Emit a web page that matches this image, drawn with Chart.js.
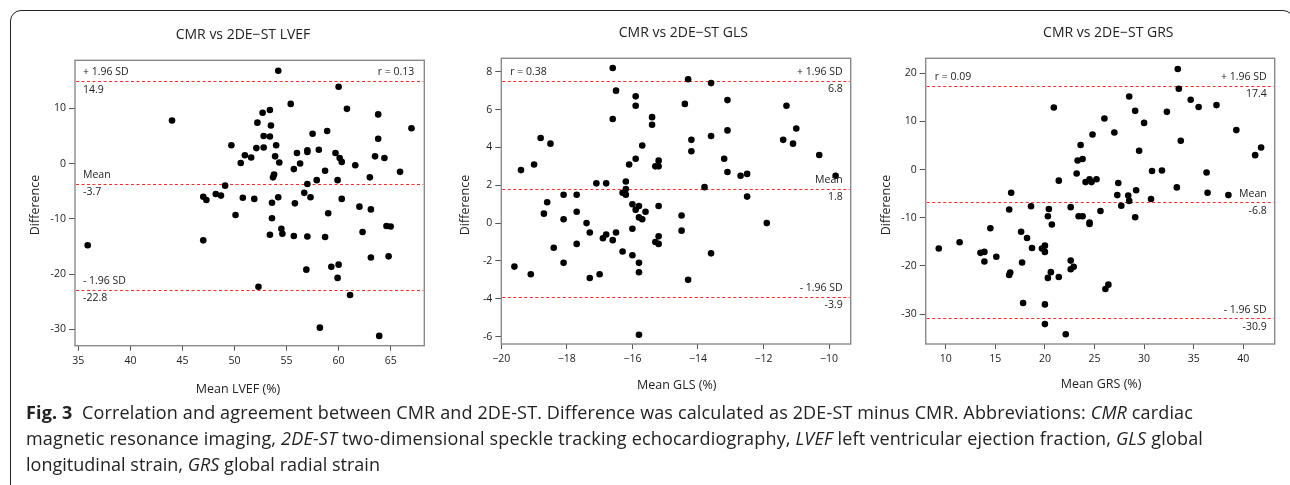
<!DOCTYPE html>
<html><head><meta charset="utf-8">
<script src="https://cdn.jsdelivr.net/npm/chart.js@4.4.1/dist/chart.umd.min.js"></script>
<style>
html,body{margin:0;padding:0;background:#fff;width:1290px;height:485px;overflow:hidden;}
#frame{position:absolute;left:10px;top:10px;width:1284px;height:600px;border:1.3px solid #222;border-radius:11px;box-sizing:border-box;}
canvas{position:absolute;top:0;}
#c1{left:0px}#c2{left:430px}#c3{left:860px}
#caption{position:absolute;left:26px;top:399px;font-family:'Open Sans',sans-serif;font-size:18px;line-height:26px;color:#222;white-space:nowrap;}
#caption span{display:block;}
#caption b{font-weight:700;}
</style></head><body>
<div id="frame"></div>
<canvas id="c1" width="430" height="400"></canvas>
<canvas id="c2" width="430" height="400"></canvas>
<canvas id="c3" width="430" height="400"></canvas>
<div id="caption"><span id="l1"><b>Fig. 3</b>&nbsp; Correlation and agreement between CMR and 2DE-ST. Difference was calculated as 2DE-ST minus CMR. Abbreviations: <i>CMR</i> cardiac</span><span id="l2">magnetic resonance imaging, <i>2DE-ST</i> two-dimensional speckle tracking echocardiography, <i>LVEF</i> left ventricular ejection fraction, <i>GLS</i> global</span><span id="l3">longitudinal strain, <i>GRS</i> global radial strain</span></div>
<script>
// ---- LVEF panel ----
const lvefMean = [44.0,54.2,55.4,60.0,60.8,63.8,67.0,53.4,52.7,52.2,53.5,52.8,53.4,57.5,58.9,63.8,49.7,52.1,52.8,54.0,51.0,51.6,50.6,53.9,54.3,56.0,57.0,57.0,58.1,59.7,60.1,60.3,56.3,55.7,61.6,63.5,64.4,65.9,58.7,57.9,59.9,63.0,57.0,53.7,53.8,49.1,48.2,48.7,47.0,50.8,51.9,54.2,56.7,57.3,60.3,47.3,53.6,55.8,62.0,63.1,59.0,50.1,53.6,54.5,54.6,53.4,55.7,57.0,58.7,62.3,64.6,65.0,47.0,35.9,63.1,64.8,60.0,59.3,56.9,59.9,52.3,61.1,58.2,63.9];
const lvefDiff = [7.8,16.8,10.8,13.9,9.9,8.9,6.4,9.7,9.2,7.4,6.9,5.0,4.9,5.4,5.9,4.5,3.3,2.8,2.9,3.3,1.5,1.1,0.1,1.3,0.2,1.9,2.1,2.4,2.5,1.9,1.0,0.3,0.0,-1.0,-0.3,1.3,1.0,-1.5,-1.3,-3.0,-3.0,-2.5,-3.7,-2.5,-2.0,-4.0,-5.5,-5.8,-6.0,-6.2,-6.4,-6.1,-5.3,-6.1,-6.4,-6.6,-7.1,-7.2,-7.8,-8.3,-9.0,-9.3,-9.9,-11.8,-12.7,-12.9,-13.1,-13.2,-13.3,-12.4,-11.3,-11.4,-13.9,-14.8,-17.0,-16.8,-18.3,-18.7,-19.2,-20.7,-22.3,-23.8,-29.7,-31.2];
const lvefXTicks = [35,40,45,50,55,60,65];
const lvefYTicks = [10,0,-10,-20,-30];
const lvefLimits = [14.9,-3.7,-22.8];
const lvefLimitLabels = ['14.9','-3.7','-22.8'];

// ---- GLS panel ----
const glsMean = [-16.6,-16.5,-16.6,-15.9,-15.9,-15.4,-15.4,-15.7,-15.9,-16.1,-15.3,-15.2,-15.2,-19.4,-19.0,-18.8,-18.5,-17.1,-16.8,-16.2,-16.2,-16.3,-16.2,-18.1,-17.7,-14.3,-13.6,-14.4,-13.1,-14.2,-14.2,-13.6,-13.1,-13.2,-13.1,-12.7,-12.5,-13.8,-12.5,-11.3,-11.0,-11.4,-11.1,-10.3,-9.8,-18.6,-18.7,-17.7,-18.1,-17.4,-17.3,-16.0,-15.8,-15.9,-15.8,-15.7,-15.6,-15.2,-14.5,-14.5,-11.9,-16.0,-16.5,-16.8,-16.9,-16.6,-15.2,-15.3,-15.2,-17.7,-18.4,-16.3,-16.0,-13.6,-18.1,-15.8,-19.6,-15.8,-19.1,-17.0,-17.3,-14.3,-15.8];
const glsDiff = [8.2,7.0,5.5,6.7,6.2,5.6,5.2,4.1,3.4,3.1,3.0,3.0,3.3,2.8,3.1,4.5,4.2,2.1,2.1,2.2,1.8,1.6,1.5,1.5,1.5,7.6,7.4,6.3,6.5,4.4,3.8,4.6,4.9,3.4,2.7,2.5,2.6,1.9,1.4,6.2,5.0,4.4,4.2,3.6,2.5,1.1,0.5,0.6,0.2,0.0,-0.5,1.0,0.9,0.7,0.3,0.2,0.6,0.9,0.4,-0.4,0.0,-0.3,-0.5,-0.6,-0.8,-0.9,-0.7,-1.0,-1.1,-1.1,-1.3,-1.5,-1.7,-1.6,-2.1,-2.1,-2.3,-2.6,-2.7,-2.7,-2.9,-3.0,-5.9];
const glsXTicks = [-20,-18,-16,-14,-12,-10];
const glsYTicks = [8,6,4,2,0,-2,-4,-6];
const glsLimits = [7.5,1.8,-3.9];
const glsLimitLabels = ['6.8','1.8','-3.9'];

// ---- GRS panel ----
const grsMean = [33.4,33.5,34.7,35.5,37.3,28.5,29.1,32.3,20.9,26.0,30.0,27.0,24.8,39.3,33.7,23.6,41.2,41.8,29.5,23.3,23.8,23.2,21.4,24.1,24.5,24.7,25.2,27.4,30.8,31.8,36.3,16.6,27.3,28.4,29.2,33.3,36.4,38.5,30.7,28.5,16.4,18.6,20.4,22.6,27.7,25.6,20.3,23.4,23.8,29.1,20.7,24.5,24.5,14.5,17.6,18.2,11.4,9.3,18.7,19.7,20.0,20.0,13.5,13.9,15.1,13.9,17.7,22.6,22.9,22.6,20.6,16.5,16.4,20.3,21.4,26.4,26.1,17.8,20.0,20.0,22.1];
const grsDiff = [20.9,16.8,14.5,13.0,13.4,15.2,12.2,12.0,12.9,10.6,9.7,7.7,7.3,8.2,6.0,5.1,3.0,4.6,3.9,1.9,2.2,-0.8,-2.3,-2.6,-2.0,-2.6,-2.0,-2.8,-0.3,-0.2,-0.6,-4.8,-5.3,-5.4,-4.3,-3.7,-4.8,-5.3,-6.1,-6.5,-8.3,-7.6,-8.2,-7.8,-7.5,-8.6,-9.7,-9.7,-9.7,-9.9,-11.4,-11.0,-11.3,-12.2,-12.9,-14.2,-15.1,-16.4,-16.3,-16.4,-15.8,-17.1,-17.3,-17.1,-18.1,-19.1,-19.3,-18.9,-20.2,-20.7,-21.3,-21.4,-21.9,-22.5,-22.3,-23.9,-24.8,-27.7,-28.0,-32.1,-34.2];
const grsXTicks = [10,15,20,25,30,35,40];
const grsYTicks = [20,10,0,-10,-20,-30];
const grsLimits = [17.4,-6.8,-30.9];
const grsLimitLabels = ['17.4','-6.8','-30.9'];

// caption line right edges in the reference (px)
const captionLineEnds = [1193, 1203, 380];

const FONT = "'Open Sans', sans-serif";

const baPlugin = {
  id: 'ba',
  beforeDatasetsDraw(chart) {
    const c = chart.ctx, a = chart.chartArea, p = chart.options.plugins.ba, ys = chart.scales.y;
    c.save();
    c.strokeStyle = '#8a8a8a'; c.lineWidth = 1.4;
    c.strokeRect(a.left, a.top, a.right - a.left, a.bottom - a.top);
    c.strokeStyle = '#ff2a2a'; c.lineWidth = 1; c.setLineDash([3, 2.5]);
    p.limits.forEach(v => {
      const y = Math.round(ys.getPixelForValue(v)) + 0.5;
      c.beginPath(); c.moveTo(a.left + 1, y); c.lineTo(a.right - 1, y); c.stroke();
    });
    c.restore();
  },
  afterDatasetsDraw(chart) {
    const c = chart.ctx, a = chart.chartArea, p = chart.options.plugins.ba, ys = chart.scales.y;
    c.save();
    c.fillStyle = '#222'; c.textBaseline = 'middle';
    c.font = "14px " + FONT; c.textAlign = 'center';
    c.fillText(p.title, p.titleX, p.titleY);
    c.font = "12.5px " + FONT;
    c.fillText(p.xTitle, p.xTitleX, p.xTitleY);
    c.save(); c.translate(p.yTitleX, p.yTitleY); c.rotate(-Math.PI / 2);
    c.fillText('Difference', 0, 0); c.restore();
    c.font = "10.5px " + FONT;
    const names = ['+ 1.96 SD', 'Mean', '- 1.96 SD'];
    c.textAlign = p.side === 'left' ? 'left' : 'right';
    const tx = p.side === 'left' ? a.left + 8 : a.right - 8;
    p.limits.forEach((v, i) => {
      const y = ys.getPixelForValue(v);
      c.fillText(names[i], tx, y - 8.8);
      c.fillText(p.labels[i], tx, y + 8.3);
    });
    const yr = ys.getPixelForValue(p.limits[0]) - 8.8;
    c.textAlign = p.side === 'left' ? 'right' : 'left';
    c.fillText(p.r, p.side === 'left' ? a.right - 10 : a.left + 9, yr);
    c.restore();
  }
};

function makePanel(id, o) {
  const pts = o.xs.map((v, i) => ({ x: v, y: o.ys[i] }));
  return new Chart(document.getElementById(id), {
    type: 'scatter',
    data: { datasets: [{ data: pts, pointRadius: 3.3, pointHoverRadius: 3.3, backgroundColor: '#000', borderWidth: 0 }] },
    options: {
      animation: false, responsive: false, events: [],
      layout: { padding: { left: 0, right: o.padR, top: o.padT, bottom: 0 } },
      plugins: { legend: { display: false }, tooltip: { enabled: false }, ba: o.ba },
      scales: {
        x: {
          type: 'linear', min: o.xmin, max: o.xmax,
          afterBuildTicks: s => { s.ticks = o.xTicks.map(v => ({ value: v })); },
          afterFit: s => { s.height = o.xAxisH; },
          grid: { drawOnChartArea: false, drawTicks: true, tickLength: 5, color: '#555', lineWidth: 1 },
          border: { display: false },
          ticks: { font: { family: FONT, size: 10.5 }, color: '#222', padding: 4, maxRotation: 0, autoSkip: false,
                   callback: v => o.xFmt ? o.xFmt(v) : String(v) }
        },
        y: {
          type: 'linear', min: o.ymin, max: o.ymax,
          afterBuildTicks: s => { s.ticks = o.yTicks.map(v => ({ value: v })); },
          afterFit: s => { s.width = o.yAxisW; },
          grid: { drawOnChartArea: false, drawTicks: true, tickLength: 6, color: '#555', lineWidth: 1 },
          border: { display: false },
          ticks: { font: { family: FONT, size: 10.5 }, color: '#222', padding: 3, autoSkip: false,
                   callback: v => String(v) }
        }
      }
    },
    plugins: [baPlugin]
  });
}

makePanel('c1', {
  xs: lvefMean, ys: lvefDiff, xTicks: lvefXTicks, yTicks: lvefYTicks,
  xmin: 34.68, xmax: 68.23, ymin: -32.97, ymax: 18.69,
  yAxisW: 75, padR: 5.7, padT: 60.3, xAxisH: 54.3,
  ba: { limits: lvefLimits, labels: lvefLimitLabels, side: 'left', r: 'r = 0.13',
        title: 'CMR vs 2DE\u2212ST LVEF', titleX: 243, titleY: 35,
        xTitle: 'Mean LVEF (%)', xTitleX: 238, xTitleY: 389,
        yTitleX: 35, yTitleY: 205 }
});
makePanel('c2', {
  xs: glsMean, ys: glsDiff, xTicks: glsXTicks, yTicks: glsYTicks,
  xmin: -20.0, xmax: -9.34, ymin: -6.39, ymax: 8.71,
  yAxisW: 71.3, padR: 9.3, padT: 58.3, xAxisH: 56,
  xFmt: v => String(v).replace('-', '\u2212'),
  ba: { limits: glsLimits, labels: glsLimitLabels, side: 'right', r: 'r = 0.38',
        title: 'CMR vs 2DE\u2212ST GLS', titleX: 253.3, titleY: 33,
        xTitle: 'Mean GLS (%)', xTitleX: 246.7, xTitleY: 385,
        yTitleX: 35, yTitleY: 205 }
});
makePanel('c3', {
  xs: grsMean, ys: grsDiff, xTicks: grsXTicks, yTicks: grsYTicks,
  xmin: 7.98, xmax: 43.17, ymin: -36.23, ymax: 23.12,
  yAxisW: 65.7, padR: 15.3, padT: 58.3, xAxisH: 56,
  ba: { limits: grsLimits, labels: grsLimitLabels, side: 'right', r: 'r = 0.09',
        title: 'CMR vs 2DE\u2212ST GRS', titleX: 248.3, titleY: 33,
        xTitle: 'Mean GRS (%)', xTitleX: 241, xTitleY: 384.5,
        yTitleX: 26.7, yTitleY: 205 }
});

// fit caption lines to the reference widths via letter spacing
['l1','l2','l3'].forEach((id, i) => {
  const el = document.getElementById(id);
  el.style.display = 'inline-block';
  const w = el.getBoundingClientRect().width;
  const target = captionLineEnds[i] - 26;
  const n = el.textContent.length;
  el.style.letterSpacing = ((target - w) / n).toFixed(3) + 'px';
  el.style.display = 'block';
});
</script>
</body></html>
